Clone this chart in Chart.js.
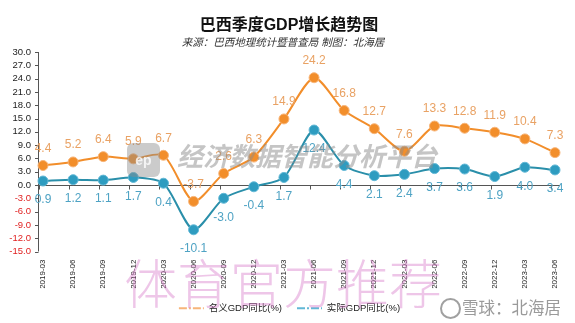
<!DOCTYPE html>
<html>
<head>
<meta charset="utf-8">
<script src="https://cdn.jsdelivr.net/npm/chart.js@4.4.1/dist/chart.umd.min.js"></script>
<style>
  body { margin: 0; background: #fff; }
  #wrap { position: relative; width: 575px; height: 323px; overflow: hidden; }
  #wrap canvas { position: absolute; left: 0; top: 0; }
  .txt { position: absolute; white-space: nowrap; font-family: "Liberation Sans", "Noto Sans CJK SC", sans-serif; }
  #title { left: 0; width: 578px; top: 16px; text-align: center; font-size: 16px; font-weight: bold; color: #111; line-height: 18px; }
  #subtitle { left: 0; width: 566px; top: 36px; text-align: center; font-size: 10.5px; font-style: italic; color: #333; line-height: 12px; }
  #mark1 { left: 177px; top: 142px; font-size: 26px; font-weight: bold; font-style: italic; color: rgba(140,140,140,0.5); line-height: 30px; }
  #logo1 { position: absolute; left: 127px; top: 143px; width: 33px; height: 34px; border-radius: 6px; background: rgba(140,140,140,0.45); color: rgba(255,255,255,0.8); font: bold 14px "Liberation Sans", sans-serif; text-align: center; line-height: 34px; }
  #mark2 { left: 124px; top: 256px; font-size: 53px; font-weight: 300; color: rgba(215,120,200,0.42); line-height: 60px; }
  #mark3 { left: 462px; top: 298px; font-size: 16.5px; color: rgba(120,120,120,0.75); line-height: 20px; }
  #logo3 { position: absolute; left: 440px; top: 298px; width: 17px; height: 17px; border: 2px solid rgba(120,120,120,0.7); border-radius: 50%; }
</style>
</head>
<body>
<div id="wrap">
  <canvas id="gdpChart" width="575" height="323"></canvas>
  <div class="txt" id="title">巴西季度GDP增长趋势图</div>
  <div class="txt" id="subtitle">来源：巴西地理统计暨普查局 制图：北海居</div>
  <div id="logo1">ep</div>
  <div class="txt" id="mark1">经济数据智能分析平台</div>
  <div class="txt" id="mark2">体育官方推荐</div>
  <div id="logo3"></div>
  <div class="txt" id="mark3">雪球：北海居</div>
</div>
<script>
const quarters = ['2019-03', '2019-06', '2019-09', '2019-12', '2020-03', '2020-06', '2020-09', '2020-12', '2021-03',
                  '2021-06', '2021-09', '2021-12', '2022-03', '2022-06', '2022-09', '2022-12', '2023-03', '2023-06'];
const nominalGdp = [4.4, 5.2, 6.4, 5.9, 6.7, -3.7, 2.6, 6.3, 14.9, 24.2, 16.8, 12.7, 7.6, 13.3, 12.8, 11.9, 10.4, 7.3];
const realGdp = [0.9, 1.2, 1.1, 1.7, 0.4, -10.1, -3.0, -0.4, 1.7, 12.4, 4.4, 2.1, 2.4, 3.7, 3.6, 1.9, 4.0, 3.4];
const seriesNames = ['名义GDP同比(%)', '实际GDP同比(%)'];
const yMin = -15, yMax = 30, yStep = 3;

const orange = '#F28E2B';
const teal = '#2E9CC0';

// axis line on the left and the zero line with small ticks
const axisLines = {
    id: 'axisLines',
    beforeDatasetsDraw(chart) {
        const {ctx, chartArea, scales: {x, y}} = chart;
        const x0 = chartArea.left - 5;
        ctx.save();
        ctx.strokeStyle = '#555';
        ctx.lineWidth = 1;
        ctx.beginPath();
        ctx.moveTo(x0 + 0.5, chartArea.top);
        ctx.lineTo(x0 + 0.5, chartArea.bottom);
        y.ticks.forEach(t => {
            const py = Math.round(y.getPixelForValue(t.value)) + 0.5;
            ctx.moveTo(x0 - 3, py);
            ctx.lineTo(x0 + 0.5, py);
        });
        const zy = Math.round(y.getPixelForValue(0)) + 0.5;
        ctx.moveTo(x0, zy);
        ctx.lineTo(chartArea.right + 5, zy);
        quarters.forEach((q, i) => {
            const px = Math.round(x.getPixelForValue(i)) - 3.5;
            ctx.moveTo(px, zy);
            ctx.lineTo(px, zy + 4);
        });
        ctx.stroke();
        ctx.restore();
    },
    afterLayout(chart) {
        // legend sits a little right of centre in the original
        chart.legend.left += 12;
        chart.legend.right += 12;
    }
};

// value labels: nominal above the point, real below
const valueLabels = {
    id: 'valueLabels',
    afterDatasetsDraw(chart) {
        const ctx = chart.ctx;
        const colors = ['#E9A264', '#4FA3C4'];
        const offsets = [-17, 19];
        chart.data.datasets.forEach((ds, i) => {
            const meta = chart.getDatasetMeta(i);
            ctx.save();
            ctx.font = '12px "Liberation Sans", Arial, sans-serif';
            ctx.fillStyle = colors[i];
            ctx.textAlign = 'center';
            ctx.textBaseline = 'middle';
            meta.data.forEach((pt, j) => {
                ctx.fillText(ds.data[j].toFixed(1), pt.x, pt.y + offsets[i]);
            });
            ctx.restore();
        });
    }
};

Chart.defaults.font.family = '"Liberation Sans", "Noto Sans CJK SC", sans-serif';

new Chart(document.getElementById('gdpChart'), {
    type: 'line',
    data: {
        labels: quarters,
        datasets: [
            {
                label: seriesNames[0],
                data: nominalGdp,
                borderColor: orange,
                backgroundColor: orange,
                borderWidth: 2,
                tension: 0.25,
                pointRadius: 5,
                pointBackgroundColor: orange,
                pointBorderColor: '#F7B57A',
                pointBorderWidth: 1
            },
            {
                label: seriesNames[1],
                data: realGdp,
                borderColor: '#2A8FAA',
                backgroundColor: teal,
                borderWidth: 2,
                tension: 0.25,
                pointRadius: 5,
                pointBackgroundColor: teal,
                pointBorderColor: '#62B8D6',
                pointBorderWidth: 1
            }
        ]
    },
    options: {
        responsive: false,
        animation: false,
        layout: { padding: { top: 52, right: 20, bottom: 0, left: 0 } },
        scales: {
            x: {
                offset: false,
                grid: { display: false, drawTicks: false },
                border: { display: false },
                ticks: {
                    minRotation: 90, maxRotation: 90, autoSkip: false,
                    padding: 8, color: '#222', font: { size: 8 }
                },
                afterFit(scale) { scale.height = 37; }
            },
            y: {
                min: yMin, max: yMax,
                grid: { display: false, drawTicks: false },
                border: { display: false },
                ticks: {
                    stepSize: yStep, autoSkip: false, padding: 12, font: { size: 9.5 },
                    color: c => c.tick.value < 0 ? '#E02020' : '#222',
                    callback: v => v.toFixed(1)
                },
                afterFit(scale) { scale.width = 43; }
            }
        },
        plugins: {
            title: { display: false },
            tooltip: { enabled: false },
            legend: {
                position: 'bottom',
                labels: {
                    usePointStyle: true,
                    pointStyle: 'line',
                    pointStyleWidth: 25,
                    padding: 15,
                    color: '#222',
                    font: { size: 9.5 },
                    generateLabels(chart) {
                        const items = Chart.defaults.plugins.legend.labels.generateLabels(chart);
                        items.forEach(it => { it.lineDash = [8, 2, 2, 2]; it.lineWidth = 2; });
                        return items;
                    }
                }
            }
        }
    },
    plugins: [axisLines, valueLabels]
});
</script>
</body>
</html>
